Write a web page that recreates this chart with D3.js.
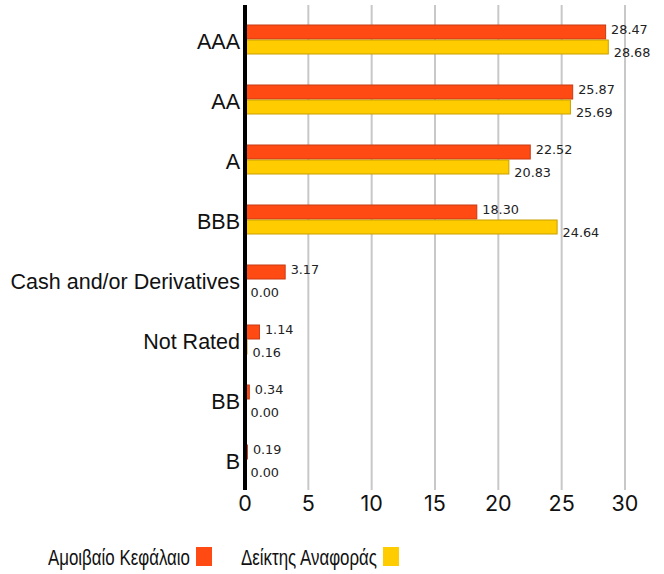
<!DOCTYPE html>
<html><head><meta charset="utf-8">
<script src="https://cdn.jsdelivr.net/npm/d3@7"></script>
<style>body{margin:0;background:#fff}</style></head>
<body><svg id="c" width="664" height="574"></svg>
<script>
const categories = ["AAA","AA","A","BBB","Cash and/or Derivatives","Not Rated","BB","B"];
const fund = [28.47,25.87,22.52,18.30,3.17,1.14,0.34,0.19];
const benchmark = [28.68,25.69,20.83,24.64,0.00,0.16,0.00,0.00];
const seriesNames = ["Αμοιβαίο Κεφάλαιο","Δείκτης Αναφοράς"];
const xTicks = [0,5,10,15,20,25,30];

const colors = ["#FF4A14","#FFCC00"];
const strokes = ["#C83A10","#C8A000"];
const svg = d3.select("#c");
const x = d3.scaleLinear().domain([0,30]).range([245,625]);
const y = d3.scaleBand().domain(categories).range([9.5,489.5]).paddingInner(0.5).paddingOuter(0.25);
const sub = d3.scaleBand().domain([0,1]).range([0,y.bandwidth()]);

// grid
svg.append("g").selectAll("line").data(xTicks.slice(1)).join("line")
  .attr("x1",d=>x(d)).attr("x2",d=>x(d)).attr("y1",5).attr("y2",490)
  .attr("stroke","#c8c8c8").attr("stroke-width",2);

const series = [fund, benchmark];
const labelShift = [-2.5, 5];
series.forEach((vals,si)=>{
  const g = svg.append("g");
  g.selectAll("rect").data(vals).join("rect")
    .attr("x",x(0)).attr("y",(d,i)=>y(categories[i])+sub(si)+0.5)
    .attr("width",d=>Math.max(0,x(d)-x(0)))
    .attr("height",sub.bandwidth()-1)
    .attr("fill",colors[si]).attr("stroke",d=>d>0?strokes[si]:"none").attr("stroke-width",1);
  g.selectAll("text").data(vals).join("text")
    .attr("x",d=>x(d)+5.5).attr("y",(d,i)=>y(categories[i])+sub(si)+sub.bandwidth()/2+labelShift[si])
    .attr("dy","0.36em").attr("font-family","DejaVu Sans, sans-serif").attr("font-size",12.8)
    .attr("fill","#222").text(d=>d.toFixed(2));
});

// axis line
svg.append("line").attr("x1",x(0)).attr("x2",x(0)).attr("y1",5).attr("y2",490)
  .attr("stroke","#000").attr("stroke-width",4);

// category labels
svg.append("g").selectAll("text").data(categories).join("text")
  .attr("x",240).attr("y",d=>y(d)+y.bandwidth()/2+1.5).attr("dy","0.36em")
  .attr("text-anchor","end").attr("font-family","Liberation Sans, Arial, sans-serif")
  .attr("font-size",21.5).attr("fill","#111").text(d=>d);

// x tick labels
svg.append("g").selectAll("text").data(xTicks).join("text")
  .attr("x",d=>x(d)).attr("y",503.5).attr("dy","0.36em").attr("text-anchor","middle")
  .attr("font-family","Inter, sans-serif").attr("font-size",21.5).attr("fill","#111").text(d=>d);

// legend
const leg = [{t:seriesNames[0],tx:48,w:142,sx:196},{t:seriesNames[1],tx:241,w:136,sx:383}];
leg.forEach((l,i)=>{
  svg.append("text").attr("x",l.tx).attr("y",557).attr("dy","0.36em")
    .attr("font-family","Liberation Sans, Arial, sans-serif").attr("font-size",22)
    .attr("textLength",l.w).attr("lengthAdjust","spacingAndGlyphs")
    .attr("fill","#111").text(l.t);
  svg.append("rect").attr("x",l.sx).attr("y",547).attr("width",16).attr("height",19).attr("fill",colors[i]);
});
</script></body></html>
